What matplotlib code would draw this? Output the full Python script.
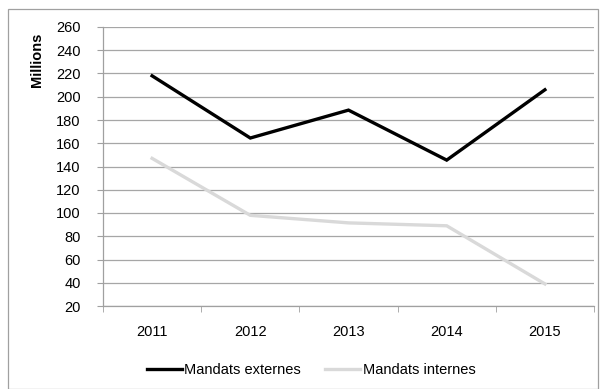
import matplotlib
matplotlib.use("Agg")
import matplotlib.pyplot as plt
from matplotlib.patches import Rectangle

years = ["2011", "2012", "2013", "2014", "2015"]
externes = [218, 164.5, 188.5, 145.5, 206]
internes = [147, 98, 91.5, 89, 39]
yticks = list(range(20, 261, 20))

plt.rcParams['font.family'] = ['Liberation Sans', 'DejaVu Sans']
FS = 10.5

fig = plt.figure(figsize=(6.0, 3.89), dpi=100)
W, H = 600, 389
ax = fig.add_axes([103 / W, 1 - 306 / H, (594 - 103) / W, (306 - 27) / H])

x = list(range(len(years)))
ax.plot(x, externes, color='black', lw=2.4, solid_joinstyle='miter', label='Mandats externes', zorder=3)
ax.plot(x, internes, color='#d9d9d9', lw=2.4, solid_joinstyle='miter', label='Mandats internes', zorder=3)

ax.set_xlim(-0.5, len(years) - 0.5)
ax.set_ylim(20, 260)
ax.set_yticks(yticks)
ax.set_yticklabels([str(v) for v in yticks], fontsize=FS)
ax.set_xticks(x)
ax.set_xticklabels(years, fontsize=FS)
ax.set_xticks([i - 0.5 for i in range(len(years) + 1)], minor=True)
ax.tick_params(axis='x', which='major', length=0, pad=14)
ax.tick_params(axis='x', which='minor', length=4, color='#a0a0a0', direction='out')
ax.tick_params(axis='y', length=4, color='#a0a0a0', direction='out', pad=12)
ax.grid(axis='y', color='#a6a6a6', lw=0.9)
ax.set_axisbelow(True)
for s in ['top', 'right']:
    ax.spines[s].set_visible(False)
for s in ['left', 'bottom']:
    ax.spines[s].set_color('#a0a0a0')
    ax.spines[s].set_linewidth(0.9)

fig.text(37.5 / W, 1 - 60 / H, 'Millions', rotation=90, fontsize=FS, fontweight='bold',
         ha='center', va='center')

leg = fig.legend(loc='center', bbox_to_anchor=(311 / W, 1 - 370 / H), ncol=2, frameon=False,
                 fontsize=FS, handlelength=2.4, handletextpad=0.15, columnspacing=1.7,
                 borderpad=0, borderaxespad=0)

fig.patches.append(Rectangle((8 / W, 0), (598 - 8) / W, 1 - 9 / H, transform=fig.transFigure,
                             fill=False, edgecolor='#a0a0a0', lw=0.9))

fig.savefig('out.png', dpi=100)
